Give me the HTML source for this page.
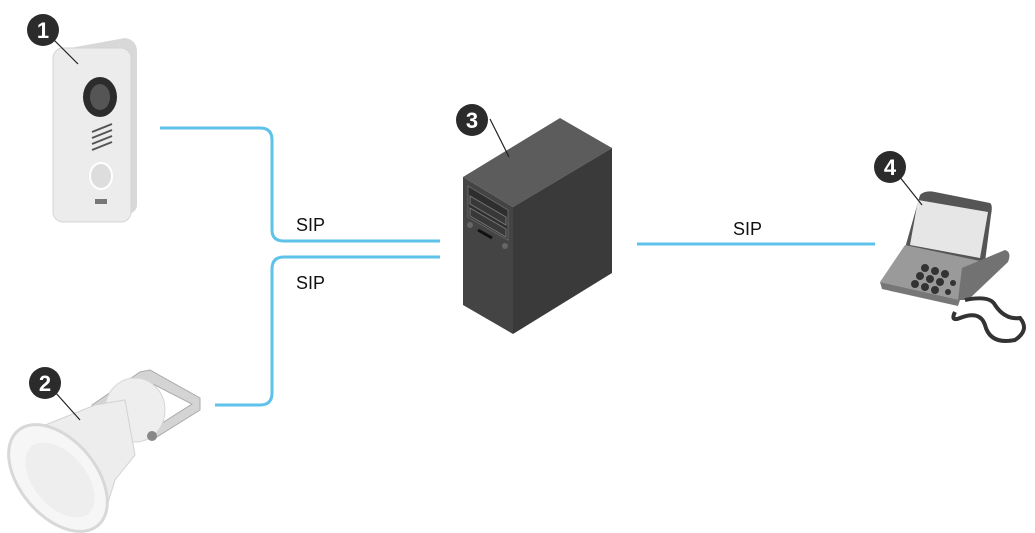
<!DOCTYPE html>
<html><head><meta charset="utf-8"><style>
html,body{margin:0;padding:0;background:#fff;}
svg{display:block}
text{font-family:"Liberation Sans",sans-serif;}
</style></head><body>
<svg width="1035" height="533" viewBox="0 0 1035 533" xmlns="http://www.w3.org/2000/svg">
<!-- connectors -->
<g fill="none" stroke="#5ec2ea" stroke-width="3">
<path d="M160 128 H260 Q272 128 272 140 V230 Q272 241 284 241 H440"/>
<path d="M440 257 H284 Q272 257 272 269 V393 Q272 405 260 405 H215"/>
<path d="M637 244 H875"/>
</g>
<g font-size="18" fill="#111">
<text x="296" y="231">SIP</text>
<text x="296" y="289">SIP</text>
<text x="733" y="235">SIP</text>
</g>

<!-- doorbell -->
<path d="M70 48 L125 38 Q137 40 137 52 L137 205 Q137 212 128 214 L70 222 Z" fill="#d8d8d8"/>
<rect x="53" y="48" width="78" height="174" rx="10" fill="#ececec" stroke="#d4d4d4"/>
<ellipse cx="100" cy="97" rx="17" ry="20" fill="#2c2c2c"/>
<ellipse cx="100" cy="97" rx="10" ry="13" fill="#555"/>
<g stroke="#555" stroke-width="2"><line x1="92" y1="132" x2="112" y2="124"/><line x1="92" y1="138" x2="112" y2="130"/><line x1="92" y1="144" x2="112" y2="136"/><line x1="92" y1="150" x2="112" y2="142"/></g>
<ellipse cx="101" cy="176" rx="11" ry="13" fill="#ddd" stroke="#fff" stroke-width="2"/>
<rect x="95" y="199" width="12" height="5" fill="#777"/>
<line x1="52" y1="38" x2="78" y2="64" stroke="#222" stroke-width="1.2"/>
<circle cx="43" cy="30" r="16" fill="#2b2b2b"/><text x="43" y="38" font-size="22" font-weight="bold" fill="#fff" text-anchor="middle">1</text>

<!-- speaker -->
<path d="M92 405 L140 372 L150 370 L200 398 L200 410 L152 440 L148 432 L192 404 L145 380 L100 410 Z" fill="#d4d4d4" stroke="#aaa"/>
<ellipse cx="135" cy="410" rx="30" ry="32" fill="#eeeeee" stroke="#d6d6d6"/>
<path d="M18 436 L95 405 L125 400 L135 455 L115 480 L102 522 Z" fill="#ededed" stroke="#d2d2d2"/>
<ellipse cx="58" cy="478" rx="62" ry="38" transform="rotate(50 58 478)" fill="#f6f6f6" stroke="#d8d8d8" stroke-width="3"/>
<ellipse cx="60" cy="480" rx="44" ry="26" transform="rotate(50 60 480)" fill="#eeeeee"/>
<circle cx="152" cy="436" r="5" fill="#888"/>
<line x1="55" y1="392" x2="80" y2="420" stroke="#222" stroke-width="1.2"/>
<circle cx="45" cy="383" r="16" fill="#2b2b2b"/><text x="45" y="391" font-size="22" font-weight="bold" fill="#fff" text-anchor="middle">2</text>

<!-- server -->
<polygon points="463,177 560,118 612,148 513,207" fill="#5c5c5c"/>
<polygon points="513,207 612,148 612,273 513,334" fill="#3a3a3a"/>
<polygon points="463,177 513,207 513,334 463,305" fill="#444"/>
<polygon points="468,186 508,210 508,240 468,217" fill="#2e2e2e" stroke="#666"/>
<polygon points="470,196 506,217 506,225 470,204" fill="#383838" stroke="#777"/>
<polygon points="470,208 506,229 506,237 470,216" fill="#383838" stroke="#777"/>
<circle cx="470" cy="225" r="3" fill="#666"/>
<circle cx="505" cy="246" r="3" fill="#666"/>
<line x1="478" y1="230" x2="492" y2="238" stroke="#111" stroke-width="3"/>
<line x1="490" y1="119" x2="509" y2="157" stroke="#222" stroke-width="1.2"/>
<circle cx="472" cy="120" r="16" fill="#2b2b2b"/><text x="472" y="128" font-size="22" font-weight="bold" fill="#fff" text-anchor="middle">3</text>

<!-- phone -->
<path d="M920 195 Q925 190 935 192 L990 203 Q993 205 991 215 L985 262 L905 248 Z" fill="#555"/>
<polygon points="918,200 988,212 980,258 910,245" fill="#e6e6e6"/>
<path d="M880 282 L905 245 L985 262 L995 268 L960 300 Z" fill="#9a9a9a"/>
<path d="M880 282 L960 300 L958 306 L882 289 Z" fill="#777"/>
<path d="M962 268 L1005 250 Q1012 252 1008 262 L968 300 L958 300 Z" fill="#727272"/>
<g fill="#333"><circle cx="925" cy="268" r="4"/><circle cx="935" cy="271" r="4"/><circle cx="945" cy="274" r="4"/><circle cx="920" cy="276" r="4"/><circle cx="930" cy="279" r="4"/><circle cx="940" cy="282" r="4"/><circle cx="915" cy="284" r="4"/><circle cx="925" cy="287" r="4"/><circle cx="935" cy="290" r="4"/><circle cx="948" cy="292" r="3"/><circle cx="953" cy="283" r="3"/></g>
<path d="M965 300 Q990 295 995 305 Q1005 320 1020 318 Q1030 330 1015 340 Q990 345 985 325 Q980 310 960 318 Q950 322 955 312" fill="none" stroke="#333" stroke-width="4"/>
<line x1="899" y1="176" x2="922" y2="205" stroke="#222" stroke-width="1.2"/>
<circle cx="890" cy="167" r="16" fill="#2b2b2b"/><text x="890" y="175" font-size="22" font-weight="bold" fill="#fff" text-anchor="middle">4</text>
</svg>
</body></html>
